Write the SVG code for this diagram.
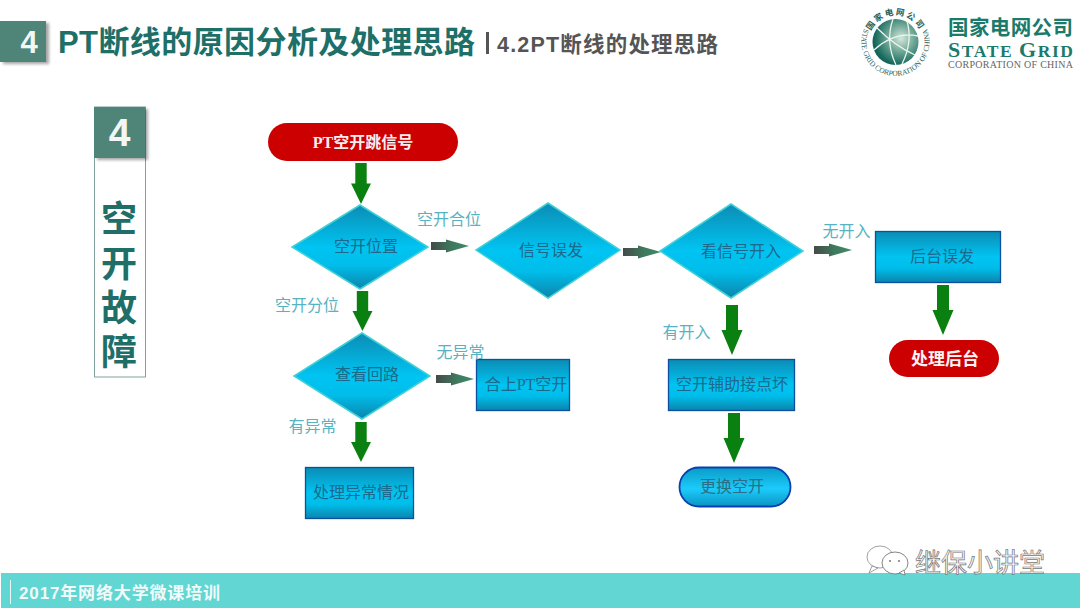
<svg xmlns="http://www.w3.org/2000/svg" xmlns:xlink="http://www.w3.org/1999/xlink" width="1080" height="608" viewBox="0 0 1080 608">
<defs>
<linearGradient id="fillBlue" x1="0" y1="0" x2="0" y2="1"><stop offset="0" stop-color="#0b8cb4"/><stop offset="0.5" stop-color="#00c4f2"/><stop offset="0.72" stop-color="#00bdea"/><stop offset="1" stop-color="#0b85ab"/></linearGradient>
<linearGradient id="fillPill" x1="0" y1="0" x2="0" y2="1"><stop offset="0" stop-color="#0a9bc6"/><stop offset="0.55" stop-color="#1ccbfb"/><stop offset="1" stop-color="#0a94c2"/></linearGradient>
<linearGradient id="grayGreen" x1="0" y1="0" x2="1" y2="0"><stop offset="0" stop-color="#444a48"/><stop offset="0.55" stop-color="#3f7a5e"/><stop offset="1" stop-color="#3f8a68"/></linearGradient>
<radialGradient id="globe" cx="0.62" cy="0.42" r="0.72"><stop offset="0" stop-color="#d5e8dc"/><stop offset="0.4" stop-color="#6fa896"/><stop offset="0.8" stop-color="#17695e"/><stop offset="1" stop-color="#0d4f48"/></radialGradient>
<filter id="shadow" x="-20%" y="-20%" width="150%" height="150%"><feDropShadow dx="3" dy="2" stdDeviation="1.5" flood-color="#000" flood-opacity="0.35"/></filter>
<path id="down" d="M-6 0H6V25H10.5L0 50L-10.500 25H-6Z" fill="#0a8010"/>
<path id="right" d="M0 -4H15V-6.500L38 0L15 6.500V4H0Z" fill="url(#grayGreen)"/>
<path id="ringTop" d="M868.500 42A27 27 0 0 1 922.500 42"/>
<path id="ringBottom" d="M863.500 30.400A34 34 0 1 0 927.500 30.400"/>
</defs>
<style>
text{font-family:"Liberation Sans","Noto Sans CJK SC",sans-serif}
.cn{font-family:"Noto Sans CJK SC","Liberation Sans",sans-serif}
.serif{font-family:"Liberation Serif","Noto Sans CJK SC",serif}
.node{font-size:16px;fill:#1b6a8c;text-anchor:middle}
.lbl{font-size:16px;fill:#58b2c2;text-anchor:middle}
.dia{fill:url(#fillBlue);stroke:#3fd0d8;stroke-width:1.500}
.box{fill:url(#fillBlue);stroke:#0b4fa0;stroke-width:1.300}
.side{font-size:36px;font-weight:700;fill:#1f6f68;text-anchor:middle}
</style>
<rect width="1080" height="608" fill="#fff"/>

<g id="header">
<rect x="0" y="21" width="46" height="41" fill="#4f8579" filter="url(#shadow)"/>
<text x="29" y="53" font-size="31" font-weight="700" fill="#f2f7f5" text-anchor="middle">4</text>
<text x="58" y="53" font-size="31" font-weight="700" fill="#1e6f68" textLength="417" lengthAdjust="spacing">PT断线的原因分析及处理思路</text>
<rect x="486" y="32" width="3" height="22" fill="#555"/>
<text x="497" y="52" font-size="21.500" font-weight="700" fill="#555" textLength="221" lengthAdjust="spacing">4.2PT断线的处理思路</text>
</g>

<g id="logo">
<circle cx="895.500" cy="42" r="23" fill="url(#globe)"/>
<path d="M874 50Q895 31 918 36M877 28Q895 46 915 55M893 19Q885 42 896 65M907 21Q913 42 902 64" fill="none" stroke="#eaf4ef" stroke-width="1.300"/>
<text font-size="8.500" font-weight="700" fill="#2a5f58" class="cn"><textPath xlink:href="#ringTop" startOffset="50%" text-anchor="middle" letter-spacing="1.800">国家电网公司</textPath></text>
<text font-size="7.500" fill="#2a5f58" class="serif"><textPath xlink:href="#ringBottom" startOffset="50%" text-anchor="middle">STATE GRID CORPORATION OF CHINA</textPath></text>
<text x="948" y="35" font-size="20.500" font-weight="700" fill="#1a7a6c" textLength="125" lengthAdjust="spacing">国家电网公司</text>
<text x="948" y="57" class="serif" font-size="17.500" font-weight="700" fill="#1a7a6c" textLength="125" lengthAdjust="spacing"><tspan font-size="22">S</tspan>TATE <tspan font-size="22">G</tspan>RID</text>
<text x="948" y="68" class="serif" font-size="10" fill="#666" textLength="125" lengthAdjust="spacing">CORPORATION OF CHINA</text>
</g>

<g id="side-title">
<rect x="94.500" y="107" width="51" height="270" fill="#fff" stroke="#7fa39c" stroke-width="1"/>
<rect x="94" y="107" width="51" height="51" fill="#4f8579" filter="url(#shadow)"/>
<text x="119.500" y="146" font-size="39" font-weight="700" fill="#f2f7f5" text-anchor="middle">4</text>
<text class="side" x="119" y="232">空</text>
<text class="side" x="119" y="277">开</text>
<text class="side" x="119" y="321">故</text>
<text class="side" x="119" y="365">障</text>
</g>

<g id="connectors">
<use xlink:href="#down" transform="translate(361,163) scale(0.95,0.82)"/>
<use xlink:href="#down" transform="translate(362.500,291) scale(0.95,0.8)"/>
<use xlink:href="#down" transform="translate(361,422) scale(0.95,0.8)"/>
<use xlink:href="#down" transform="translate(732,305)"/>
<use xlink:href="#down" transform="translate(943,285)"/>
<use xlink:href="#down" transform="translate(734,413)"/>
<use xlink:href="#right" transform="translate(431,246)"/>
<use xlink:href="#right" transform="translate(436,379)"/>
<use xlink:href="#right" transform="translate(623,252)"/>
<use xlink:href="#right" transform="translate(814,250)"/>
</g>

<g id="n-start">
<rect x="268" y="123" width="190" height="38" rx="19" fill="#cc0000"/>
<text x="363" y="148" font-size="16" font-weight="700" fill="#f6eeee" text-anchor="middle" class="serif">PT空开跳信号</text>
</g>
<g id="n-pos"><polygon class="dia" points="360,205 428,247 360,289 292,247"/><text class="node" x="366" y="252">空开位置</text></g>
<g id="n-misfire"><polygon class="dia" points="548,203 620,250 548,298 476,250"/><text class="node" x="551" y="256">信号误发</text></g>
<g id="n-input"><polygon class="dia" points="731,204 803,251 731,298 660,251"/><text class="node" x="741" y="257">看信号开入</text></g>
<g id="n-loop"><polygon class="dia" points="362,333 430,376 362,419 294,376"/><text class="node" x="367" y="380">查看回路</text></g>
<g id="n-close"><rect class="box" x="476.500" y="359.500" width="93" height="51"/><text class="node serif" x="526" y="390">合上PT空开</text></g>
<g id="n-bg-err"><rect class="box" x="875.500" y="231.500" width="125" height="51"/><text class="node" x="942" y="262">后台误发</text></g>
<g id="n-aux"><rect class="box" x="668.500" y="359.500" width="126" height="51"/><text class="node" x="732" y="390">空开辅助接点坏</text></g>
<g id="n-abn"><rect class="box" x="305.500" y="467.500" width="108" height="51"/><text class="node" x="361" y="498">处理异常情况</text></g>
<g id="n-replace"><rect x="679.500" y="467.500" width="111" height="39" rx="19.500" fill="url(#fillPill)" stroke="#0b3fb0" stroke-width="1.800"/><text class="node" x="732" y="492" style="fill:#2a6f86">更换空开</text></g>
<g id="n-bg"><rect x="889" y="340" width="110" height="37" rx="18.500" fill="#cc0000"/><text x="945" y="365" font-size="17" font-weight="700" fill="#fdf3f3" text-anchor="middle">处理后台</text></g>

<g id="labels">
<text class="lbl" x="449" y="225">空开合位</text>
<text class="lbl" x="307" y="311">空开分位</text>
<text class="lbl" x="460.500" y="358">无异常</text>
<text class="lbl" x="312.500" y="432">有异常</text>
<text class="lbl" x="686.500" y="338">有开入</text>
<text class="lbl" x="846.500" y="237">无开入</text>
</g>

<g id="footer">
<rect x="1" y="573" width="1079" height="35" fill="#62d6d2"/>
<rect x="10" y="580" width="1" height="24" fill="#e6f8f6"/>
<text x="19" y="599" font-size="17" font-weight="700" fill="#f0fbfa" textLength="201" lengthAdjust="spacing">2017年网络大学微课培训</text>
</g>

<g id="watermark">
<ellipse cx="880" cy="557" rx="13" ry="11" fill="#fff" stroke="#8a8a8a" stroke-width="0.800"/>
<path d="M872 566L869 573L878 568Z" fill="#fff" stroke="#8a8a8a" stroke-width="0.800"/>
<ellipse cx="895" cy="563" rx="13" ry="11" fill="#fff" stroke="#777" stroke-width="0.900"/>
<path d="M899 573L905 575L904 570Z" fill="#fff" stroke="#777" stroke-width="0.800"/>
<circle cx="890" cy="561" r="1" fill="#777"/><circle cx="899" cy="561" r="1" fill="#777"/>
<text x="915" y="572" font-size="26" fill="#f6f6f6" stroke="#777" stroke-width="0.700" textLength="130" lengthAdjust="spacing">继保小讲堂</text>
</g>
</svg>
